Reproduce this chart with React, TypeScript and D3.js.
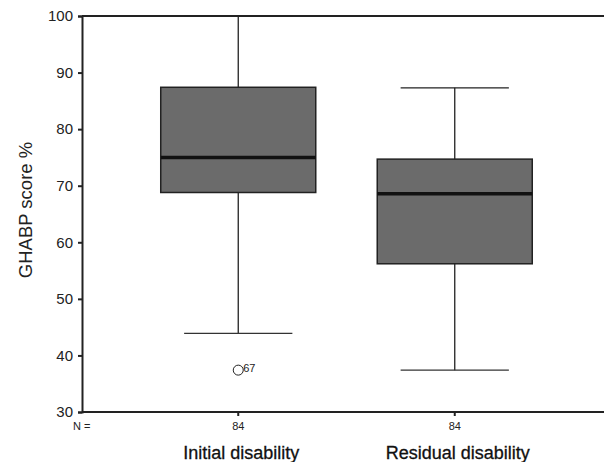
import { useRef, useEffect } from 'react';
import * as d3 from 'd3';

const CATEGORIES = ["Initial disability", "Residual disability"];
const N_COUNTS = [84, 84];
const WHISKER_LOW = [43.9, 37.4];
const Q1 = [68.8, 56.2];
const MEDIAN = [75.0, 68.6];
const Q3 = [87.4, 74.7];
const WHISKER_HIGH = [100, 87.3];
const OUTLIERS = [{ cat: "Initial disability", value: 37.4, label: "67" }];
const Y_TICKS = [30, 40, 50, 60, 70, 80, 90, 100];

function BoxPlot() {
  const svgRef = useRef<SVGSVGElement>(null);

  useEffect(() => {
    const svg = d3.select(svgRef.current);
    svg.selectAll("*").remove();

    const W = 604, H = 462;
    const left = 82, right = 604, top = 16, bottom = 412;
    const font = "Liberation Sans, Arial, sans-serif";

    const y = d3.scaleLinear().domain([30, 100]).range([bottom, top]);
    const x = d3.scaleBand().domain(CATEGORIES).range([130, 563]);
    const bw = x.bandwidth();

    const rows = CATEGORIES.map((c, i) => ({
      cat: c, n: N_COUNTS[i], lo: WHISKER_LOW[i], q1: Q1[i],
      med: MEDIAN[i], q3: Q3[i], hi: WHISKER_HIGH[i]
    }));

    // frame: top line + axes
    svg.append("line").attr("x1", left).attr("x2", right).attr("y1", top).attr("y2", top)
      .attr("stroke", "#222").attr("stroke-width", 2);

    const yAxis = svg.append("g").attr("transform", `translate(${left},0)`)
      .call(d3.axisLeft(y).tickValues(Y_TICKS).tickSize(4).tickPadding(5));
    yAxis.select(".domain").attr("stroke", "#222").attr("stroke-width", 2);
    yAxis.selectAll(".tick line").attr("stroke", "#222").attr("stroke-width", 2);
    yAxis.selectAll(".tick text")
      .attr("font-family", font).attr("font-size", 15).attr("fill", "#222");

    const xAxis = svg.append("g").attr("transform", `translate(0,${bottom})`)
      .call(d3.axisBottom(x).tickSize(4).tickFormat(() => ""));
    xAxis.select(".domain").attr("d", `M${left},0H${right}`)
      .attr("stroke", "#222").attr("stroke-width", 2);
    xAxis.selectAll(".tick line").attr("stroke", "#222").attr("stroke-width", 2);

    // y label
    svg.append("text")
      .attr("transform", `translate(32,210) rotate(-90)`)
      .attr("text-anchor", "middle")
      .attr("font-family", font).attr("font-size", 18.5).attr("fill", "#222")
      .text("GHABP score %");

    const g = svg.append("g");
    const cx = (d: any) => (x(d.cat) as number) + bw / 2;

    // whiskers
    g.selectAll("line.whisk").data(rows).enter().append("line")
      .attr("x1", cx).attr("x2", cx)
      .attr("y1", d => y(d.hi)).attr("y2", d => y(d.lo))
      .attr("stroke", "#222").attr("stroke-width", 1.3);

    g.selectAll("line.capHi").data(rows).enter().append("line")
      .attr("x1", d => cx(d) - bw * 0.25).attr("x2", d => cx(d) + bw * 0.25)
      .attr("y1", d => y(d.hi)).attr("y2", d => y(d.hi))
      .attr("stroke", "#222").attr("stroke-width", 1.3);

    g.selectAll("line.capLo").data(rows).enter().append("line")
      .attr("x1", d => cx(d) - bw * 0.25).attr("x2", d => cx(d) + bw * 0.25)
      .attr("y1", d => y(d.lo)).attr("y2", d => y(d.lo))
      .attr("stroke", "#333").attr("stroke-width", 1.3);

    // boxes
    g.selectAll("rect.box").data(rows).enter().append("rect")
      .attr("x", d => cx(d) - bw * 0.358)
      .attr("width", bw * 0.716)
      .attr("y", d => y(d.q3))
      .attr("height", d => y(d.q1) - y(d.q3))
      .attr("fill", "#6b6b6b").attr("stroke", "#222").attr("stroke-width", 1.5);

    g.selectAll("line.med").data(rows).enter().append("line")
      .attr("x1", d => cx(d) - bw * 0.358).attr("x2", d => cx(d) + bw * 0.358)
      .attr("y1", d => y(d.med)).attr("y2", d => y(d.med))
      .attr("stroke", "#111").attr("stroke-width", 3.5);

    // outliers
    OUTLIERS.forEach(o => {
      const ox = (x(o.cat) as number) + bw / 2;
      g.append("circle").attr("cx", ox).attr("cy", y(o.value)).attr("r", 5)
        .attr("fill", "none").attr("stroke", "#222").attr("stroke-width", 1);
      g.append("text").attr("x", ox + 5).attr("y", y(o.value) + 2)
        .attr("font-family", font).attr("font-size", 11).attr("fill", "#222")
        .text(o.label);
    });

    // N counts
    svg.append("text").attr("x", 73).attr("y", 430)
      .attr("font-family", font).attr("font-size", 11).attr("fill", "#222")
      .text("N =");
    svg.selectAll("text.n").data(rows).enter().append("text")
      .attr("x", cx).attr("y", 430).attr("text-anchor", "middle")
      .attr("font-family", font).attr("font-size", 11).attr("fill", "#222")
      .text(d => d.n);

    // category labels
    svg.selectAll("text.cat").data(rows).enter().append("text")
      .attr("x", d => cx(d) + 3).attr("y", 459).attr("text-anchor", "middle")
      .attr("font-family", font).attr("font-size", 18).attr("fill", "#111")
      .attr("stroke", "#111").attr("stroke-width", 0.3)
      .text(d => d.cat);

    svg.attr("width", W).attr("height", H);
  }, []);

  return <svg ref={svgRef} style={{ display: "block" }}></svg>;
}

export default function App() {
  return (
    <div style={{ position: "fixed", left: 0, top: 0, width: 604, height: 462, background: "#fff" }}>
      <BoxPlot />
    </div>
  );
}
